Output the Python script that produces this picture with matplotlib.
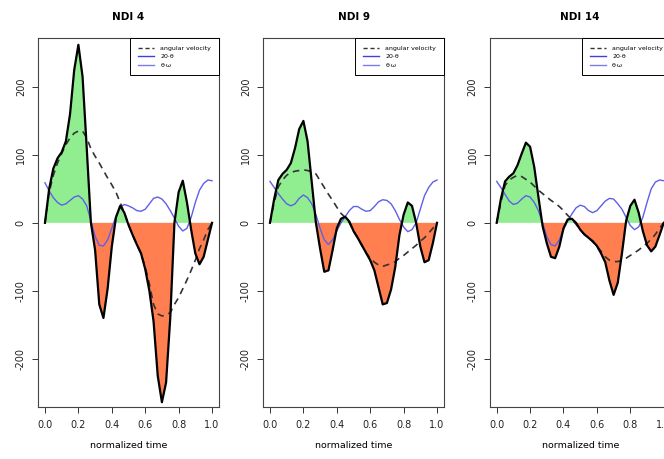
import numpy as np
import matplotlib
matplotlib.use('Agg')
import matplotlib.pyplot as plt

# normalized time grid shared by all curves
t = np.linspace(0, 1, 41)

# ---- NDI 4 ----
ndi4_prod = [0, 50, 80, 95, 104, 120, 160, 225, 262, 215, 110, 0, -40, -120, -140,
             -97, -35, 8, 25, 15, -3, -18, -32, -45, -68, -100, -145, -225, -264, -235,
             -140, 0, 45, 62, 30, -10, -45, -61, -50, -25, 0]
ndi4_omega = [0, 45, 70, 88, 102, 115, 125, 132, 135, 135, 125, 109, 98, 88, 77,
              66, 56, 45, 30, 15, -3, -18, -32, -45, -65, -90, -120, -134, -137, -136,
              -132, -120, -110, -97, -84, -70, -55, -38, -25, -10, 0]
ndi4_theta = [59, 47, 37, 30, 26, 28, 33, 38, 40, 35, 25, 3, -20, -33, -34,
              -25, -8, 10, 23, 27, 25, 22, 18, 17, 20, 28, 36, 38, 35, 28,
              18, 7, -5, -12, -8, 8, 30, 48, 58, 63, 62]

# ---- NDI 9 ----
ndi9_prod = [0, 35, 63, 72, 78, 88, 110, 138, 150, 120, 60, 0, -38, -72, -70,
             -40, -8, 6, 9, 2, -12, -22, -33, -44, -55, -70, -95, -120, -118, -98,
             -65, -18, 12, 30, 25, 0, -35, -58, -55, -30, 0]
ndi9_omega = [0, 30, 53, 63, 70, 74, 76, 77, 78, 77, 75, 72, 62, 52, 42,
              33, 23, 14, 8, 0, -12, -22, -33, -44, -52, -58, -62, -64, -62, -60,
              -57, -52, -48, -43, -38, -33, -27, -22, -15, -8, 0]
ndi9_theta = [61, 52, 43, 35, 28, 25, 28, 36, 41, 37, 28, 12, -8, -25, -32,
              -25, -12, 0, 9, 18, 24, 24, 20, 17, 18, 24, 31, 34, 33, 28,
              18, 5, -6, -13, -10, 0, 20, 40, 52, 60, 63]

# ---- NDI 14 ----
ndi14_prod = [0, 35, 61, 68, 73, 85, 102, 118, 112, 82, 38, -5, -30, -50, -52,
              -35, -8, 5, 6, 0, -10, -17, -22, -27, -34, -45, -58, -85, -106, -88,
              -45, 3, 25, 34, 15, -12, -33, -42, -35, -18, 0]
ndi14_omega = [0, 30, 55, 63, 67, 70, 68, 64, 60, 54, 48, 43, 38, 33, 29,
               24, 18, 11, 5, -2, -10, -17, -22, -28, -34, -42, -50, -55, -57, -57,
               -55, -52, -48, -44, -40, -35, -30, -24, -17, -8, 0]
ndi14_theta = [61, 52, 42, 32, 27, 29, 35, 40, 38, 30, 18, 0, -20, -32, -34,
               -25, -10, 3, 13, 22, 26, 24, 18, 15, 18, 25, 32, 36, 35, 28,
               20, 8, -4, -10, -6, 8, 30, 50, 60, 63, 62]

titles = ['NDI 4', 'NDI 9', 'NDI 14']
panels = [(ndi4_prod, ndi4_omega, ndi4_theta),
          (ndi9_prod, ndi9_omega, ndi9_theta),
          (ndi14_prod, ndi14_omega, ndi14_theta)]

fig = plt.figure(figsize=(6.64, 4.59), dpi=100)

# axes boxes in pixels (left edge); third one runs past the right edge like the source
lefts = [38.3, 263.3, 490.0]
W, H = 664.0, 459.0
for left, title, (prod, omega, theta) in zip(lefts, titles, panels):
    ax = fig.add_axes([left / W, 1 - 407 / H, 180.4 / W, 369 / H])
    prod = np.array(prod, dtype=float)

    ax.fill_between(t, prod, 0, where=prod >= 0, interpolate=True,
                    color='#90EE90', linewidth=0)
    ax.fill_between(t, prod, 0, where=prod <= 0, interpolate=True,
                    color='coral', linewidth=0)
    ax.plot(t, theta, color='#5F5FE8', linewidth=1.0)
    ax.plot(t, omega, color='#333333', linewidth=1.2, linestyle=(0, (4, 3)))
    ax.plot(t, prod, color='black', linewidth=1.6)

    ax.set_xlim(-0.04, 1.04)
    ax.set_ylim(-271, 272)
    ax.set_xticks([0, 0.2, 0.4, 0.6, 0.8, 1.0])
    ax.set_xticklabels(['0.0', '0.2', '0.4', '0.6', '0.8', '1.0'])
    ax.set_yticks([-200, -100, 0, 100, 200])
    ax.set_yticklabels(['-200', '-100', '0', '100', '200'], rotation=90, va='center')
    ax.tick_params(axis='both', labelsize=7, length=4, width=0.7,
                   colors='#333333', labelcolor='#222222')
    ax.tick_params(axis='x', pad=5.5)
    ax.tick_params(axis='y', pad=5)
    for sp in ax.spines.values():
        sp.set_linewidth(0.8)
        sp.set_color('#444444')

    ax.set_title(title, fontsize=7.5, fontweight='bold', pad=13)
    ax.set_xlabel('normalized time', fontsize=6.8, labelpad=8)

    h1, = ax.plot([], [], color='#333333', linewidth=1.0, linestyle=(0, (3, 2)))
    h2, = ax.plot([], [], color='#4040E0', linewidth=1.0)
    h3, = ax.plot([], [], color='#7B7BEE', linewidth=1.0)
    leg = ax.legend([h1, h2, h3], ['angular velocity', '20·θ', 'θ·ω'],
                    loc='upper right', fontsize=4.5, borderaxespad=0,
                    fancybox=False, framealpha=1, edgecolor='black',
                    handlelength=2.6, labelspacing=0.5, borderpad=1.2,
                    handletextpad=1.0)
    leg.get_frame().set_linewidth(0.7)
    leg.set_zorder(5)

fig.savefig('out.png', dpi=100, facecolor='white')
